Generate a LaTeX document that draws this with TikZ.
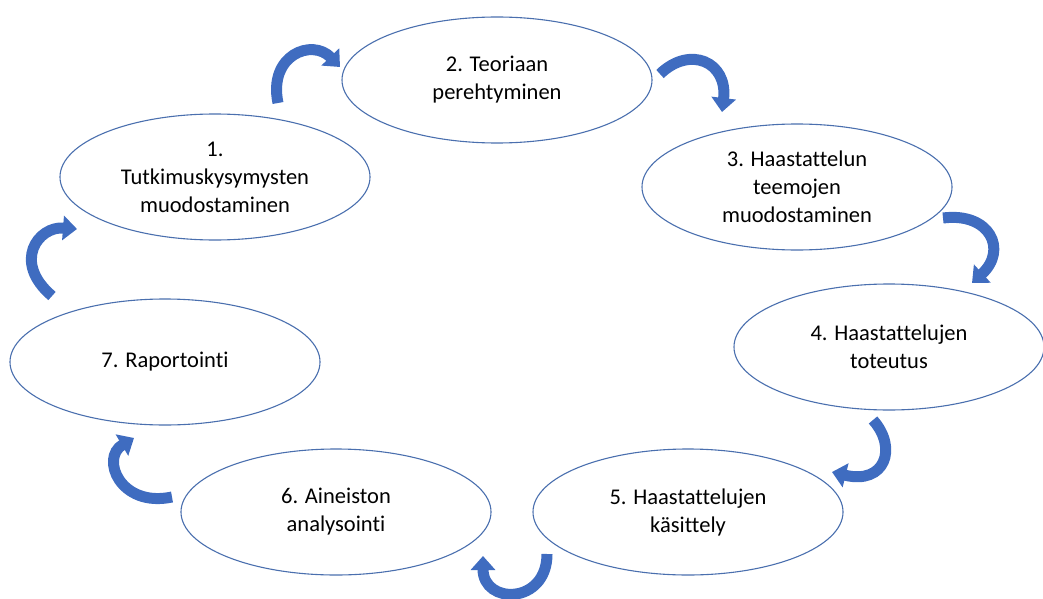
\documentclass[tikz,border=0pt]{standalone}
\usepackage{fontspec}
\setmainfont{Carlito}[Ligatures=NoCommon]
\usetikzlibrary{shapes.geometric,arrows.meta}
\definecolor{ringline}{HTML}{4A6FAE}
\definecolor{arrowblue}{HTML}{3F6CC0}
\begin{document}
\begin{tikzpicture}[x=1pt,y=-1pt,
  stage/.style={ellipse,draw=ringline,line width=1.1pt,minimum width=310pt,minimum height=126pt,inner sep=0pt,align=center,font=\fontsize{22.5}{28}\selectfont},
  cyc/.style={draw=arrowblue,line width=11pt,-{Triangle[width=24pt,length=14pt]}}]
\useasboundingbox (0,0) rectangle (1043,599);
\node[stage] (n1) at (215,177) {1.\\Tutkimuskysymysten\\muodostaminen};
\node[stage] (n2) at (497,80) {2. Teoriaan\\perehtyminen};
\node[stage] (n3) at (797,187) {3. Haastattelun\\teemojen\\muodostaminen};
\node[stage] (n4) at (889,347) {4. Haastattelujen\\toteutus};
\node[stage] (n5) at (688,512) {5. Haastattelujen\\käsittely};
\node[stage] (n6) at (336,512) {6. Aineiston\\analysointi};
\node[stage] (n7) at (165,362) {7. Raportointi};
\coordinate (a1s) at (278,103); \coordinate (a1e) at (340,67);
\coordinate (a2s) at (660,74); \coordinate (a2e) at (722,112);
\coordinate (a3s) at (943,218); \coordinate (a3e) at (972,283);
\coordinate (a4s) at (873,420); \coordinate (a4e) at (832,472);
\coordinate (a5s) at (547,554); \coordinate (a5e) at (483,556);
\coordinate (a6s) at (172,497); \coordinate (a6e) at (134,438);
\coordinate (a7s) at (52,296); \coordinate (a7e) at (77,229);
\draw[cyc] (a1s) .. controls (268,55) and (312,38) .. (a1e);
\draw[cyc] (a2s) .. controls (690,45) and (728,62) .. (a2e);
\draw[cyc] (a3s) .. controls (990,212) and (1008,250) .. (a3e);
\draw[cyc] (a4s) .. controls (898,448) and (885,485) .. (a4e);
\draw[cyc] (a5s) .. controls (547,605) and (483,605) .. (a5e);
\draw[cyc] (a6s) .. controls (120,508) and (100,458) .. (a6e);
\draw[cyc] (a7s) .. controls (12,262) and (38,226) .. (a7e);
\end{tikzpicture}
\end{document}
